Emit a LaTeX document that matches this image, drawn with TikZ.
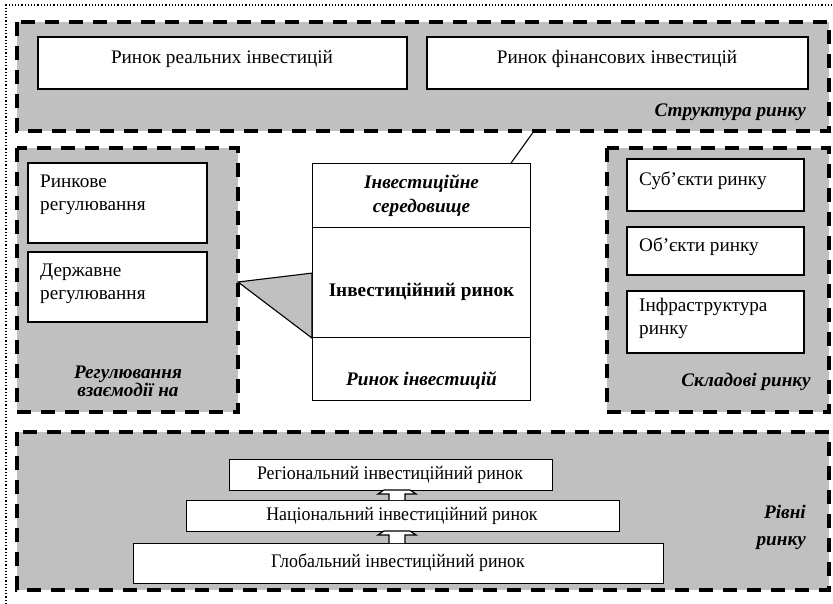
\documentclass[tikz,border=0pt]{standalone}
\usepackage{fontspec}
\setmainfont{Liberation Serif}
\newfontfamily\condserif[FakeStretch=0.93]{Liberation Serif}
\begin{document}
\begin{tikzpicture}[x=1pt,y=-1pt,
  every node/.style={font=\fontsize{19.2}{23}\selectfont},
  grp/.style={draw=black, fill=grp, line width=3.6pt, dash pattern=on 14pt off 10pt},
  whitebox/.style={draw=black, fill=white, line width=1.1pt},
  captext/.style={font=\fontsize{19.2}{18}\selectfont\bfseries\itshape},
  lvltext/.style={font=\condserif\fontsize{19.2}{23}\selectfont},
  txt/.style={inner sep=0pt},
  blockarrow/.style={draw=black, fill=white, line width=1.2pt, line join=miter}]
\definecolor{grp}{HTML}{C0C0C0}
\useasboundingbox (0,0) rectangle (833,604);

% dotted frame of the page
\coordinate (frameTop) at (6,5);
\draw[line width=1.2pt, dotted] (6,604) -- (frameTop) -- (833,5);

% shaded groups
\path[grp] (17,22) rectangle (829,131);
\path[grp] (17,148) rectangle (238,412);
\path[grp] (607,148) rectangle (829,412);
\path[grp] (17,432) rectangle (829,590);
\coordinate (strBottom) at (534,131);
\coordinate (regRight) at (238,282);

% structure of the market
\path[whitebox] (38,37) rectangle (407,89);
\path[whitebox] (427,37) rectangle (808,89);
\node[txt] (real) at (222,59) {Ринок реальних інвестицій};
\node[txt] (fin) at (617,59) {Ринок фінансових інвестицій};
\node[txt, captext, anchor=east] (strcap) at (806,112) {Структура ринку};

% regulation
\path[whitebox] (28,163) rectangle (207,243);
\path[whitebox] (28,252) rectangle (207,322);
\node[txt, anchor=west, align=left] (rynk) at (40,195) {Ринкове\\регулювання};
\node[txt, anchor=west, align=left] (derzh) at (40,284) {Державне\\регулювання};
\node[txt, captext, align=center] (regcap) at (128,381) {Регулювання\\взаємодії на};

% central column
\node[whitebox, minimum width=218pt, minimum height=64pt, anchor=north west, inner sep=0pt] (env) at (312,163) {};
\node[whitebox, minimum width=218pt, minimum height=110pt, anchor=north west, inner sep=0pt] (mkt) at (312,227) {};
\node[whitebox, minimum width=218pt, minimum height=63pt, anchor=north west, inner sep=0pt] (inv) at (312,337) {};
\node[txt, align=center, font=\fontsize{19.2}{24}\selectfont\bfseries\itshape] (envt) at (env.center) {Інвестиційне\\середовище};
\node[txt, font=\fontsize{19.2}{18}\selectfont\bfseries] (mktt) at ([yshift=-9pt]mkt.center) {Інвестиційний ринок};
\node[txt, captext] (invt) at ([yshift=-11pt]inv.center) {Ринок інвестицій};

% links to the central column
\draw[line width=1.1pt] (strBottom) -- ([xshift=-20pt]env.north east);
\draw[line width=1.1pt, fill=grp, line join=miter]
  (regRight) -- ([yshift=-45pt]env.south west) -- (mkt.south west) -- cycle;

% components of the market
\path[whitebox] (627,159) rectangle (804,211);
\path[whitebox] (627,227) rectangle (804,275);
\path[whitebox] (627,291) rectangle (804,353);
\node[txt, anchor=west] (subj) at (639,181) {Суб’єкти ринку};
\node[txt, anchor=west] (obj) at (639,247) {Об’єкти ринку};
\node[txt, anchor=west, align=left] (infra) at (639,318) {Інфраструктура\\ринку};
\node[txt, captext] (compcap) at (746,382) {Складові ринку};

% levels of the market
\node[whitebox, minimum width=323pt, minimum height=31pt, anchor=north west, inner sep=0pt] (regional) at (229,459) {};
\node[whitebox, minimum width=433pt, minimum height=31pt, anchor=north west, inner sep=0pt] (national) at (186,500) {};
\node[whitebox, minimum width=530pt, minimum height=40pt, anchor=north west, inner sep=0pt] (global) at (133,543) {};
\node[txt, lvltext] at (390,475) (regt) {Регіональний інвестиційний ринок};
\node[txt, lvltext] at (402,516) (natt) {Національний інвестиційний ринок};
\node[txt, lvltext] at (398,563) (glot) {Глобальний інвестиційний ринок};
\node[txt, align=right, anchor=east, font=\fontsize{19.2}{27}\selectfont\bfseries\itshape] (lvlcap) at (806,527) {Рівні\\ринку};

% hollow arrows between levels
\coordinate (a1b) at (397,500);
\coordinate (a1t) at (397,490);
\coordinate (a2b) at (397,543);
\coordinate (a2t) at (397,531);
\draw[blockarrow] ([xshift=-8pt]a1b) -- ([xshift=-8pt,yshift=-4pt]a1t) -- ([xshift=-19pt,yshift=-4pt]a1t)
  -- ([xshift=-13pt]a1t) -- ([xshift=13pt]a1t) -- ([xshift=19pt,yshift=-4pt]a1t)
  -- ([xshift=8pt,yshift=-4pt]a1t) -- ([xshift=8pt]a1b);
\draw[blockarrow] ([xshift=-8pt]a2b) -- ([xshift=-8pt,yshift=-4pt]a2t) -- ([xshift=-19pt,yshift=-4pt]a2t)
  -- ([xshift=-13pt]a2t) -- ([xshift=13pt]a2t) -- ([xshift=19pt,yshift=-4pt]a2t)
  -- ([xshift=8pt,yshift=-4pt]a2t) -- ([xshift=8pt]a2b);
\end{tikzpicture}
\end{document}
